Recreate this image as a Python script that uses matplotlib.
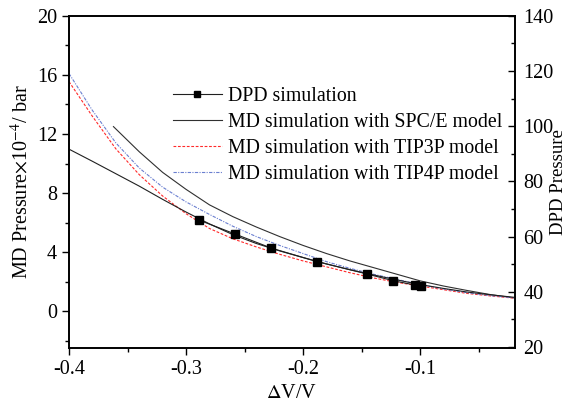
import numpy as np
import matplotlib.pyplot as plt
from matplotlib.ticker import MultipleLocator

plt.rcParams['font.family'] = ['Liberation Serif', 'DejaVu Serif']
plt.rcParams['mathtext.fontset'] = 'stix'
plt.rcParams['axes.unicode_minus'] = False

# DPD simulation points (right axis, DPD pressure units)
dpd_x = [-0.289, -0.258, -0.227, -0.188, -0.145, -0.123, -0.104, -0.099]
dpd_p = [66.0, 60.9, 55.8, 50.9, 46.4, 44.0, 42.4, 42.1]

# smooth DPD curve through the points
dpd_fit_x = [-0.40, -0.38, -0.36, -0.34, -0.32, -0.30, -0.28, -0.26, -0.24, -0.22,
             -0.20, -0.18, -0.16, -0.14, -0.12, -0.10, -0.08, -0.06, -0.04, -0.02]
dpd_fit_p = [91.7, 87.3, 82.8, 78.3, 73.5, 68.9, 64.6, 60.7, 57.5, 54.8,
             52.4, 50.1, 48.0, 46.1, 44.3, 42.6, 41.2, 39.9, 38.9, 38.0]

# MD curves (left axis, x1e4 bar)
md_x = dpd_fit_x
spce_x = [-0.362, -0.34, -0.32, -0.30, -0.28, -0.26, -0.24, -0.22, -0.20, -0.18,
          -0.16, -0.14, -0.12, -0.10, -0.08, -0.06, -0.04, -0.02]
spce_p = [12.5, 10.8, 9.4, 8.25, 7.2, 6.4, 5.7, 5.05, 4.45, 3.9,
          3.4, 2.95, 2.5, 2.05, 1.7, 1.4, 1.12, 0.9]
tip3p_p = [15.55, 13.2, 11.0, 9.25, 7.8, 6.6, 5.6, 4.9, 4.35, 3.85,
           3.4, 3.0, 2.6, 2.25, 1.95, 1.7, 1.45, 1.2, 1.03, 0.88]
tip4p_p = [16.1, 13.6, 11.4, 9.7, 8.4, 7.4, 6.55, 5.75, 5.05, 4.45,
           3.9, 3.35, 2.9, 2.5, 2.15, 1.8, 1.5, 1.25, 1.05, 0.9]

fig = plt.figure(figsize=(5.7, 4.08), dpi=100)
ax = fig.add_axes([0.121, 0.147, 0.7825, 0.814])
ax2 = ax.twinx()

l_spce, = ax.plot(spce_x, spce_p, color='#303030', lw=0.8, label='MD simulation with SPC/E model')
l_tip3p, = ax.plot(md_x, tip3p_p, color='#ff2a2a', lw=0.8, ls=(0, (2.5, 1.5)),
                   label='MD simulation with TIP3P model')
l_tip4p, = ax.plot(md_x, tip4p_p, color='#6a7fd0', lw=0.8, ls=(0, (3, 1.2, 1, 1.2)),
                   label='MD simulation with TIP4P model')

ax2.plot(dpd_fit_x, dpd_fit_p, color='#202020', lw=0.8)
l_dpd, = ax2.plot(dpd_x, dpd_p, color='#202020', lw=0.8, marker='s', ms=5.5,
                  mfc='black', mec='black', label='DPD simulation')

ax.set_xlim(-0.4, -0.019)
ax.set_ylim(-2.5, 20)
ax2.set_ylim(19.6, 140)

ax.xaxis.set_major_locator(MultipleLocator(0.1))
ax.xaxis.set_minor_locator(MultipleLocator(0.05))
ax.yaxis.set_major_locator(MultipleLocator(4))
ax.yaxis.set_minor_locator(MultipleLocator(2))
ax2.yaxis.set_major_locator(MultipleLocator(20))
ax2.yaxis.set_minor_locator(MultipleLocator(10))

ax.tick_params(axis='both', which='major', direction='out', length=5, width=1, labelsize=14.5)
ax.tick_params(axis='both', which='minor', direction='out', length=3, width=1)
ax.tick_params(axis='x', top=False, which='both')
ax2.tick_params(axis='y', which='major', direction='in', length=5, width=1, labelsize=14.5, pad=6)
ax2.tick_params(axis='y', which='minor', direction='in', length=3, width=1)

for a in (ax, ax2):
    for s in a.spines.values():
        s.set_linewidth(1.2)

ax.set_xlabel(r'$\Delta$V/V', fontsize=14.5, labelpad=4)
ax.set_ylabel(r'MD Pressure$\times$10$^{-4}$/ bar', fontsize=14.5, labelpad=3)
ax2.set_ylabel('DPD Pressure', fontsize=13.5, rotation=90, va='center', ha='center')
ax2.yaxis.set_label_coords((559 - 69) / 446, 0.5)

ax.legend([l_dpd, l_spce, l_tip3p, l_tip4p],
          [l.get_label() for l in (l_dpd, l_spce, l_tip3p, l_tip4p)],
          loc='upper left', bbox_to_anchor=(173 / 570, 1 - 87 / 408),
          bbox_transform=fig.transFigure, frameon=False, fontsize=14.3,
          handlelength=2.45, handletextpad=0.3, labelspacing=0.36,
          borderpad=0, borderaxespad=0, markerscale=0.85)

fig.savefig('out.png', dpi=100)
